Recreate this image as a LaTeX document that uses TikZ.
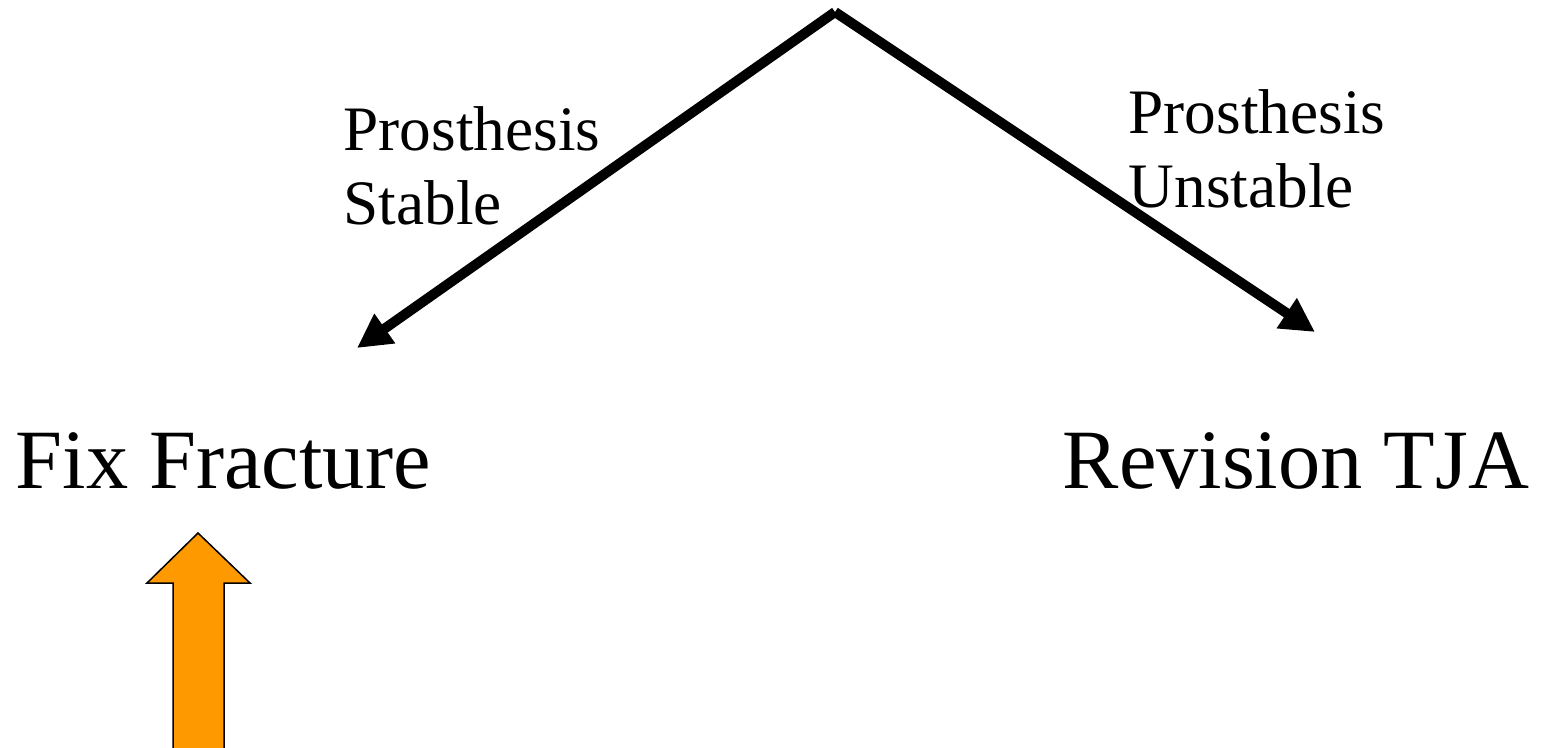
\documentclass[tikz,border=0pt]{standalone}
\usepackage{fontspec}
\setmainfont{Liberation Serif}
\usetikzlibrary{arrows.meta, positioning}
\definecolor{accent}{RGB}{255, 153, 0}

\begin{document}
\begin{tikzpicture}[x=0.01cm, y=-0.01cm,
    big/.style={font=\fontsize{24}{29}\selectfont, inner sep=0pt, anchor=base west},
    lbl/.style={font=\fontsize{18}{21}\selectfont, inner sep=0pt, anchor=base west, align=left},
    arr/.style={-{Triangle[length=0.34cm, width=0.34cm]}, line width=0.1cm, color=black}
  ]
  \useasboundingbox (0,0) rectangle (1542,747);

  % ── Branch point and arrow ends ────────────────────────────────
  \coordinate (top)    at (835,12);
  \coordinate (stab)   at (357,348);
  \coordinate (unstab) at (1315,332);

  % ── Outcomes ───────────────────────────────────────────────────
  \node[big] (fix) at (15,488)   {Fix Fracture};
  \node[big] (rev) at (1062,488) {Revision TJA};

  \draw[arr] (top) -- (stab);
  \draw[arr] (top) -- (unstab);

  % ── Branch labels ──────────────────────────────────────────────
  \node[lbl] (lstab)   at (343,224)  {Prosthesis\\Stable};
  \node[lbl] (lunstab) at (1128,207) {Prosthesis\\Unstable};

  % ── Orange block arrow ─────────────────────────────────────────
  \draw[fill=accent, line width=0.015cm]
    (173,750) -- (173,583) -- (147,583) -- (198,533) -- (250,583) -- (224,583) -- (224,750);

\end{tikzpicture}
\end{document}
